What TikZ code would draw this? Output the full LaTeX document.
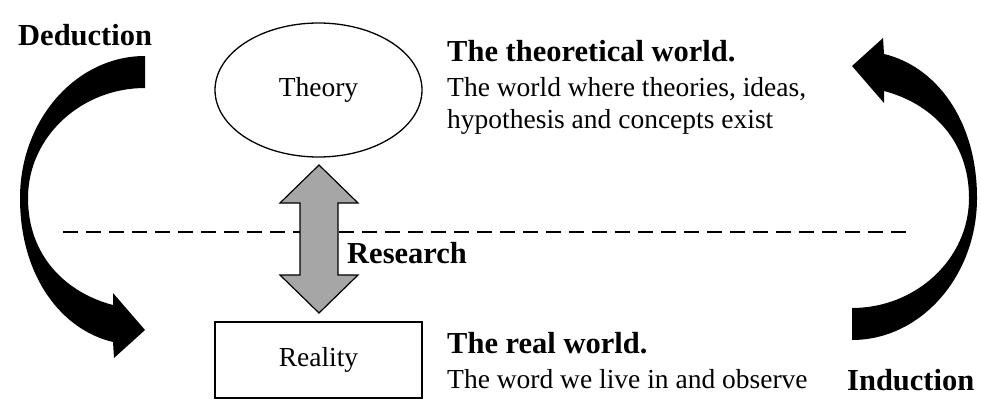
\documentclass[tikz,border=0pt]{standalone}
\usepackage{fontspec}
\setmainfont{Liberation Serif}
\usetikzlibrary{positioning,shapes.geometric}
\definecolor{arrowgray}{HTML}{A6A6A6}

\begin{document}
\begin{tikzpicture}[
  x=1pt,y=-1pt,
  font=\fontsize{27.5}{32}\selectfont,
  shapebox/.style={draw,line width=1.3pt,inner sep=0},
  headline/.style={font=\fontsize{30.5}{34}\selectfont\bfseries,anchor=base west,inner sep=0},
  bodytext/.style={align=left,anchor=north west,inner sep=0},
  plaintext/.style={anchor=base west,inner sep=0},
  bigarrow/.style={fill=black},
  sep/.style={line width=2.5pt,dash pattern=on 15pt off 8pt}
]
\useasboundingbox (0,0) rectangle (981,405);
\node[shapebox, ellipse, minimum width=207, minimum height=134] (theory) at (318.5,90) {Theory};
\node[shapebox, minimum width=207, minimum height=76] (reality) at (318.5,360) {Reality};
\node[headline] (theoworld) at (447,61) {The theoretical world.};
\node[bodytext] (theodesc) at (447,77.3) {The world where theories, ideas,\\hypothesis and concepts exist};
\node[headline] (realworld) at (447,353) {The real world.};
\node[plaintext] (realdesc) at (447,388) {The word we live in and observe};
\node[headline] (deduction) at (18,45) {Deduction};
\node[headline] (induction) at (847,390) {Induction};
\node[headline] (research) at (347,263) {Research};
% separator between the two worlds
\coordinate (sepL) at (63,232);
\coordinate (sepR) at (908,232);
\draw[sep] (sepL) -- (sepR);
% research arrow
\draw[fill=arrowgray, line width=1.2pt] (319,165) -- (358,203) -- (338,203) -- (338,275) -- (358,275)
  -- (319,313) -- (280,275) -- (300,275) -- (300,203) -- (280,203) -- cycle;
% deduction and induction arrows
\foreach \turn in {0,180}{
  \fill[bigarrow, rotate around={\turn:(498.5,198)}] (145,56) .. controls (76,56) and (20,120) .. (20,198)
    .. controls (20,277) and (62,330) .. (113,342)
    -- (114,358) -- (145,330) -- (113,293) -- (113,305)
    .. controls (67,293) and (28,257) .. (28,198)
    .. controls (28,137) and (81,88) .. (145,88) -- cycle;
}
\end{tikzpicture}
\end{document}
